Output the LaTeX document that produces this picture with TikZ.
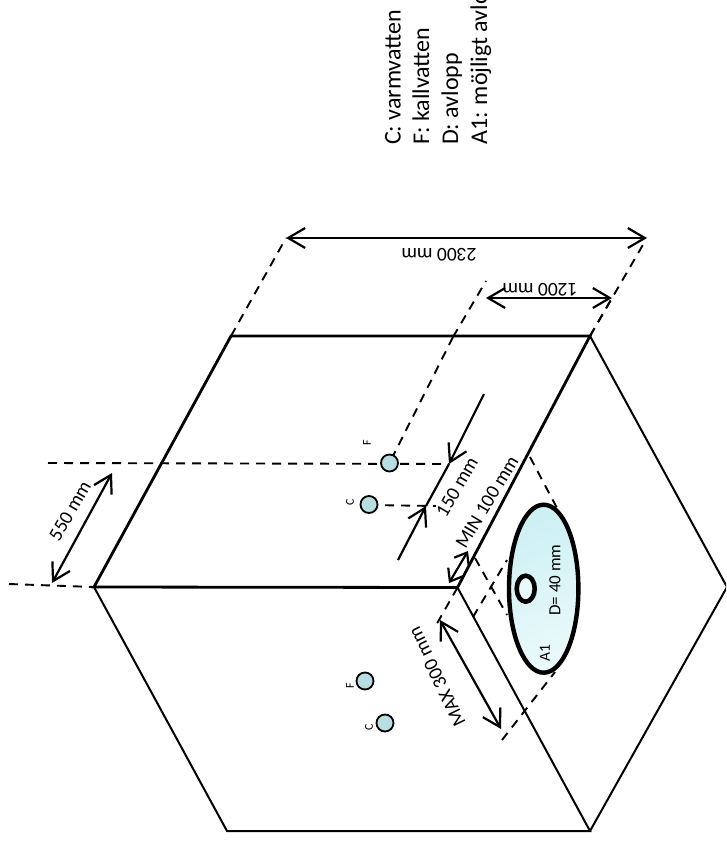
\documentclass[tikz,border=0pt]{standalone}
\usepackage{fontspec}
\setmainfont{Carlito}
\usetikzlibrary{arrows.meta}
\tikzset{
  x=1pt,y=-1pt,
  thickedge/.style={line width=2.8pt,line join=miter},
  thinedge/.style={line width=2pt,line join=miter},
  dashline/.style={line width=1.9pt,dash pattern=on 9pt off 7pt},
  barb/.style={line width=2.2pt,{Straight Barb[length=17pt,width=20pt,line width=2.2pt]}-{Straight Barb[length=17pt,width=20pt,line width=2.2pt]}},
  shortbarb/.style={line width=2.2pt,{Straight Barb[length=11pt,width=17pt,line width=2.2pt]}-{Straight Barb[length=11pt,width=17pt,line width=2.2pt]}},
  barbend/.style={line width=2.2pt,-{Straight Barb[length=17pt,width=20pt,line width=2.2pt]}},
  port/.style={circle,draw,line width=1.8pt,fill=portblue,minimum size=17pt,inner sep=0pt},
  lab/.style={inner sep=0pt,font=\fontsize{19.5}{22}\selectfont},
  legend/.style={inner sep=0pt,anchor=base west,rotate=90,font=\fontsize{24}{28}\selectfont},
  tiny lab/.style={inner sep=0pt,rotate=90,font=\fontsize{12}{14}\selectfont},
  small lab/.style={inner sep=0pt,rotate=90,font=\fontsize{17}{20}\selectfont},
}
\definecolor{portblue}{HTML}{B7DEE1}
\definecolor{holeA}{HTML}{CDF0F3}
\definecolor{holeB}{HTML}{EAF9FB}
\begin{document}
\begin{tikzpicture}
\useasboundingbox (0,0) rectangle (726,843);
\clip (0,0) rectangle (726,843);
% box corners
\coordinate (L) at (94,587);
\coordinate (T) at (231,336);
\coordinate (R) at (590,336);
\coordinate (C) at (457.5,587.5);
\coordinate (BL) at (227,831);
\coordinate (BR) at (590,831);
\coordinate (E) at (727,587);
% dimension anchors
\coordinate (d1) at (286,238);
\coordinate (d2) at (647,238);
\coordinate (d3) at (486,281);
\coordinate (d4) at (453,337);
\coordinate (a12a) at (486,298);
\coordinate (a12b) at (612,298);
\coordinate (h1a) at (48,463);
\coordinate (h1b) at (449,464);
\coordinate (h2a) at (9,584);
\coordinate (a55a) at (52,583);
\coordinate (a55b) at (112,473);
\coordinate (c2) at (436,506);
\coordinate (m1) at (426,506);
\coordinate (m2) at (449,464);
\coordinate (m3) at (398,560);
\coordinate (m4) at (484,394);
\coordinate (n1) at (449,583);
\coordinate (n2) at (468,551);
\coordinate (x1) at (440,620);
\coordinate (x2) at (501,729);
\coordinate (x3) at (435,627);
\coordinate (x4) at (502,740);
\coordinate (x5) at (555,672);
\coordinate (y1) at (473,617);
\coordinate (y2) at (507,560);
\coordinate (z1) at (475,558);
\coordinate (z2) at (507,615);
\coordinate (w1) at (530,457);
\coordinate (w2) at (557,508);
\coordinate (r1) at (644,243);
\coordinate (f0) at (390,462);
\coordinate (c0) at (369,505);
% dashed guides
\draw[dashline] (T) -- (d1);
\draw[dashline] (R) -- (r1);
\draw[dashline] (d4) -- (d3);
\draw[dashline] (R) -- (a12b);
\draw[dashline] (h2a) -- (L);
\draw[dashline] (C) -- (x3);
\draw[dashline] (x4) -- (x5);
\draw[dashline] (y1) -- (y2);
\draw[dashline] (z1) -- (z2);
\draw[dashline] (w1) -- (w2);
\draw[dashline] (d4) -- (f0);
\draw[dashline] (h1a) -- (h1b);
\draw[dashline] (c0) -- (c2);
% box
\draw[thinedge] (L) -- (BL) -- (BR) -- (C);
\draw[thinedge] (R) -- (E) -- (BR);
\draw[thickedge] (C) -- (L) -- (T) -- (R) -- cycle;
% ellipse
\shade[left color=holeA,right color=holeB,shading angle=20] (543.7,588.7) ellipse [x radius=34.7,y radius=84];
\draw[line width=4.4pt] (543.7,588.7) ellipse [x radius=34.7,y radius=84];
\draw[line width=4.6pt,fill=holeB] (525.7,588.7) ellipse [x radius=9,y radius=13];
% ports
\node[port] (F1) at (389.5,463) {};
\node[port] (C1) at (369,504.5) {};
\node[port] (F2) at (365,681) {};
\node[port] (C2) at (385,723) {};
% arrows
\draw[barb] (d1) -- (d2);
\draw[barb] (a12a) -- (a12b);
\draw[barb] (a55a) -- (a55b);
\draw[shortbarb] (n1) -- (n2);
\draw[barb] (x1) -- (x2);
\draw[barbend] (m3) -- (m1);
\draw[barbend] (m4) -- (m2);
\draw[line width=2.2pt] (m1) -- (m2);
% labels
\node[lab,rotate=180] (t2300) at (439,255) {2300 mm};
\node[lab,rotate=180] (t1200) at (540,290) {1200 mm};
\node[lab,rotate=60] (t550) at (70,511) {550 mm};
\node[lab,rotate=60] (t150) at (457,487) {150 mm};
\node[lab,rotate=59] (t100) at (487,502) {MIN 100 mm};
\node[lab,rotate=116] (t300) at (437,677) {MAX 300 mm};
\node[small lab] (tD) at (555,580) {D= 40 mm};
\node[small lab,font=\fontsize{15.5}{18}\selectfont] (tA) at (545,653) {A1};
\node[tiny lab] (lF1) at (367,443) {F};
\node[tiny lab] (lC1) at (350,502) {C};
\node[tiny lab] (lF2) at (350,686) {F};
\node[tiny lab] (lC2) at (369,727) {C};
\node[legend] (leg1) at (400.5,145) {C: varmvatten};
\node[legend] (leg2) at (429,145) {F: kallvatten};
\node[legend] (leg3) at (458,145) {D: avlopp};
\node[legend] (leg4) at (487,145) {A1: möjligt avlopp};
\end{tikzpicture}
\end{document}
